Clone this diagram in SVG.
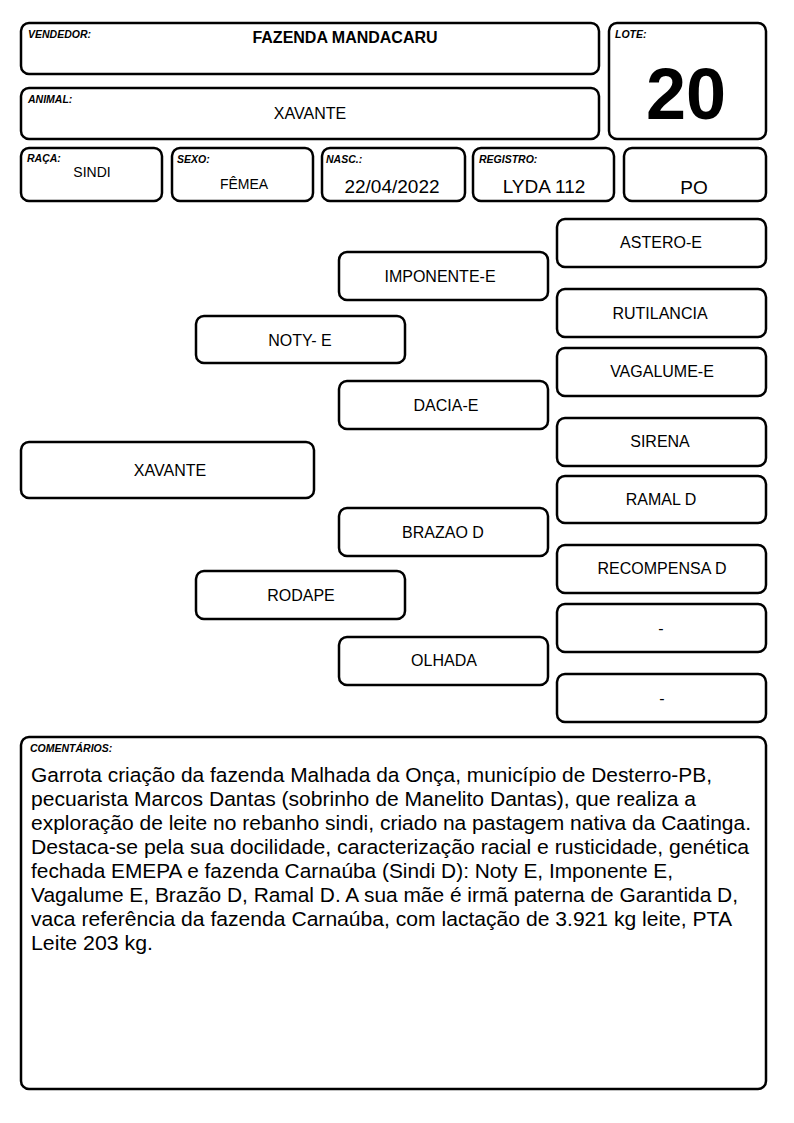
<svg xmlns="http://www.w3.org/2000/svg" width="794" height="1123" viewBox="0 0 794 1123">
<style>
.b{fill:#fff;stroke:#000;stroke-width:2.5}
.l{font-family:"Liberation Sans",Arial,sans-serif;font-weight:bold;font-style:italic;font-size:10.5px;fill:#000}
.v{font-family:"Liberation Sans",Arial,sans-serif;fill:#000;text-anchor:middle}
.p{font-family:"Liberation Sans",Arial,sans-serif;font-size:16px;fill:#000;text-anchor:middle}
.c{font-family:"Liberation Sans",Arial,sans-serif;font-size:20.5px;fill:#000}
</style>
<rect width="794" height="1123" fill="#fff"/>
<g id="vendedor"><rect class="b" x="21" y="23" width="578" height="51" rx="8"/><text class="l" x="28" y="38">VENDEDOR:</text><text class="v" x="345" y="43" font-size="16" font-weight="bold">FAZENDA MANDACARU</text></g>
<g id="animal"><rect class="b" x="21" y="88" width="578" height="51" rx="8"/><text class="l" x="28" y="103">ANIMAL:</text><text class="v" x="310" y="119" font-size="16">XAVANTE</text></g>
<g id="lote"><rect class="b" x="609" y="23" width="157" height="116" rx="8"/><text class="l" x="615" y="38">LOTE:</text><text class="v" x="686" y="119" font-size="72" font-weight="bold">20</text></g>
<g id="raca"><rect class="b" x="21" y="148" width="141" height="53" rx="8"/><text class="l" x="27" y="162">RAÇA:</text><text class="v" x="92" y="177" font-size="14">SINDI</text></g>
<g id="sexo"><rect class="b" x="172" y="148" width="141" height="53" rx="8"/><text class="l" x="177" y="163">SEXO:</text><text class="v" x="244" y="189" font-size="14">FÊMEA</text></g>
<g id="nasc"><rect class="b" x="322" y="148" width="143" height="53" rx="8"/><text class="l" x="326" y="163">NASC.:</text><text class="v" x="392" y="193" font-size="19">22/04/2022</text></g>
<g id="registro"><rect class="b" x="473" y="148" width="141" height="53" rx="8"/><text class="l" x="479" y="163">REGISTRO:</text><text class="v" x="544" y="193" font-size="19">LYDA 112</text></g>
<g id="po"><rect class="b" x="624" y="148" width="142" height="53" rx="8"/><text class="v" x="694" y="194" font-size="19">PO</text></g>
<g id="connectors"></g>
<g id="n-astero"><rect class="b" x="557" y="219" width="209" height="48" rx="8"/><text class="p" x="661" y="248">ASTERO-E</text></g>
<g id="n-imponente"><rect class="b" x="339" y="252" width="209" height="48" rx="8"/><text class="p" x="440" y="282">IMPONENTE-E</text></g>
<g id="n-rutilancia"><rect class="b" x="557" y="289" width="209" height="48" rx="8"/><text class="p" x="660" y="319">RUTILANCIA</text></g>
<g id="n-noty"><rect class="b" x="196" y="316" width="209" height="47" rx="8"/><text class="p" x="300" y="346">NOTY- E</text></g>
<g id="n-vagalume"><rect class="b" x="557" y="348" width="209" height="48" rx="8"/><text class="p" x="662" y="377">VAGALUME-E</text></g>
<g id="n-dacia"><rect class="b" x="339" y="381" width="209" height="48" rx="8"/><text class="p" x="446" y="411">DACIA-E</text></g>
<g id="n-sirena"><rect class="b" x="557" y="418" width="209" height="48" rx="8"/><text class="p" x="660" y="447">SIRENA</text></g>
<g id="n-xavante"><rect class="b" x="21" y="442" width="293" height="56" rx="8"/><text class="p" x="170" y="476">XAVANTE</text></g>
<g id="n-ramal"><rect class="b" x="557" y="476" width="209" height="47" rx="8"/><text class="p" x="661" y="505">RAMAL D</text></g>
<g id="n-brazao"><rect class="b" x="339" y="508" width="209" height="48" rx="8"/><text class="p" x="443" y="538">BRAZAO D</text></g>
<g id="n-recompensa"><rect class="b" x="557" y="545" width="209" height="48" rx="8"/><text class="p" x="662" y="574">RECOMPENSA D</text></g>
<g id="n-rodape"><rect class="b" x="196" y="571" width="209" height="48" rx="8"/><text class="p" x="301" y="601">RODAPE</text></g>
<g id="n-dash1"><rect class="b" x="557" y="604" width="209" height="48" rx="8"/><text class="p" x="661" y="634">-</text></g>
<g id="n-olhada"><rect class="b" x="339" y="637" width="209" height="48" rx="8"/><text class="p" x="444" y="666">OLHADA</text></g>
<g id="n-dash2"><rect class="b" x="557" y="674" width="209" height="48" rx="8"/><text class="p" x="662" y="704">-</text></g>
<g id="comentarios"><rect class="b" x="21" y="737" width="745" height="352" rx="8"/><text class="l" x="30" y="752">COMENTÁRIOS:</text>
<text class="c" x="31" y="782" textLength="681" lengthAdjust="spacingAndGlyphs">Garrota criação da fazenda Malhada da Onça, município de Desterro-PB,</text>
<text class="c" x="31" y="806" textLength="665" lengthAdjust="spacingAndGlyphs">pecuarista Marcos Dantas (sobrinho de Manelito Dantas), que realiza a</text>
<text class="c" x="31" y="830" textLength="720" lengthAdjust="spacingAndGlyphs">exploração de leite no rebanho sindi, criado na pastagem nativa da Caatinga.</text>
<text class="c" x="31" y="854" textLength="718" lengthAdjust="spacingAndGlyphs">Destaca-se pela sua docilidade, caracterização racial e rusticidade, genética</text>
<text class="c" x="31" y="878" textLength="642" lengthAdjust="spacingAndGlyphs">fechada EMEPA e fazenda Carnaúba (Sindi D): Noty E, Imponente E,</text>
<text class="c" x="31" y="902" textLength="707" lengthAdjust="spacingAndGlyphs">Vagalume E, Brazão D, Ramal D. A sua mãe é irmã paterna de Garantida D,</text>
<text class="c" x="31" y="926" textLength="701" lengthAdjust="spacingAndGlyphs">vaca referência da fazenda Carnaúba, com lactação de 3.921 kg leite, PTA</text>
<text class="c" x="31" y="950" textLength="122" lengthAdjust="spacingAndGlyphs">Leite 203 kg.</text></g>
</svg>
